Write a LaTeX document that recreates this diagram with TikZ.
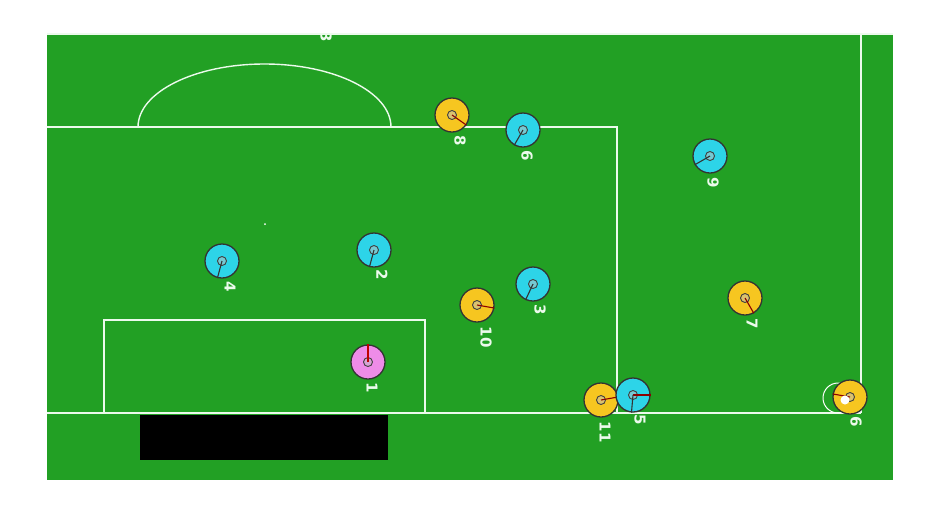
\documentclass[tikz,border=0pt]{standalone}
\usepackage{fontspec}
\setsansfont{DejaVu Sans}
\definecolor{pitch}{RGB}{34,160,36}
\definecolor{pcyan}{RGB}{45,212,232}
\definecolor{pyellow}{RGB}{246,198,32}
\definecolor{ppink}{RGB}{238,140,232}
\definecolor{lineW}{RGB}{236,250,236}
\begin{document}
\begin{tikzpicture}[x=1pt,y=-1pt,
  fieldline/.style={draw=lineW, line width=2pt},
  body/.style={circle, draw=black!80, line width=1.3pt, minimum size=34pt, inner sep=0pt},
  core/.style={circle, draw=black!75, fill=black!25, fill opacity=0.5, line width=0.9pt, minimum size=9pt, inner sep=0pt},
  num/.style={text=lineW, font=\sffamily\bfseries\fontsize{15}{15}\selectfont, rotate=-90, inner sep=0pt},
  cyanp/.style={body, fill=pcyan},
  yellowp/.style={body, fill=pyellow},
  pinkp/.style={body, fill=ppink},
  dirc/.style={draw=black!80, line width=1.1pt},
  diry/.style={draw=red!55!black, line width=1.1pt}
]
\useasboundingbox (0,0) rectangle (931,504);
\fill[white] (0,0) rectangle (931,504);
\fill[pitch] (47,33) rectangle (893,480);
% field lines
\draw[fieldline] (47,34) -- (893,34);
\draw[fieldline] (861,34) -- (861,413);
\draw[fieldline] (47,413) -- (861,413);
\draw[fieldline] (47,127) -- (617,127) -- (617,413);
\draw[fieldline] (104,413) -- (104,320) -- (425,320) -- (425,413);
\draw[fieldline, line width=1.4pt] (138,127) arc[start angle=180, end angle=360, x radius=126.5, y radius=63];
\fill[white] (265,224) circle (1pt);
\fill[black] (140,415) rectangle (388,460);
\begin{scope}
\clip (47,34) rectangle (893,480);
\node[num] (t3) at (326,37) {3};
\end{scope}
% ball area at corner
\draw[white, line width=1pt] (838,398) circle (15);
% players
\node[yellowp] (y8) at (452,115) {};
\node[core] (y8c) at (y8.center) {};
\draw[diry] (y8.center) -- (y8.-35);
\node[num] (y8n) at (460,141) {8};

\node[cyanp] (c6) at (523,130) {};
\node[core] (c6c) at (c6.center) {};
\draw[dirc] (c6.center) -- (c6.-120);
\node[num] (c6n) at (527,156) {6};

\node[cyanp] (c9) at (710,156) {};
\node[core] (c9c) at (c9.center) {};
\draw[dirc] (c9.center) -- (c9.-150);
\node[num] (c9n) at (713,183) {9};

\node[cyanp] (c4) at (222,261) {};
\node[core] (c4c) at (c4.center) {};
\draw[dirc] (c4.center) -- (c4.-105);
\node[num] (c4n) at (230,287) {4};

\node[cyanp] (c2) at (374,250) {};
\node[core] (c2c) at (c2.center) {};
\draw[dirc] (c2.center) -- (c2.-105);
\node[num] (c2n) at (382,275) {2};

\node[cyanp] (c3) at (533,284) {};
\node[core] (c3c) at (c3.center) {};
\draw[dirc] (c3.center) -- (c3.-115);
\node[num] (c3n) at (540,310) {3};

\node[yellowp] (y10) at (477,305) {};
\node[core] (y10c) at (y10.center) {};
\draw[diry] (y10.center) -- (y10.-10);
\node[num] (y10n) at (486,337) {10};

\node[pinkp] (g1) at (368,362) {};
\node[core] (g1c) at (g1.center) {};
\draw[diry, draw=red!75!black] (g1.center) -- (g1.90);
\node[num] (g1n) at (372,388) {1};

\node[yellowp] (y11) at (601,400) {};
\node[core] (y11c) at (y11.center) {};
\draw[diry] (y11.center) -- (y11.10);
\node[num] (y11n) at (605,432) {11};

\node[cyanp] (c5) at (633,395) {};
\node[core] (c5c) at (c5.center) {};
\draw[diry] (c5.center) -- (c5.0);
\draw[dirc] (c5.center) -- (c5.-95);
\node[num] (c5n) at (640,420) {5};

\node[yellowp] (y7) at (745,298) {};
\node[core] (y7c) at (y7.center) {};
\draw[diry] (y7.center) -- (y7.-60);
\node[num] (y7n) at (752,324) {7};

\node[yellowp] (y6) at (850,397) {};
\node[core] (y6c) at (y6.center) {};
\draw[diry] (y6.center) -- (y6.170);
\fill[white] (845,400) circle (4.5);
\node[num] (y6n) at (856,422) {6};
\end{tikzpicture}
\end{document}
